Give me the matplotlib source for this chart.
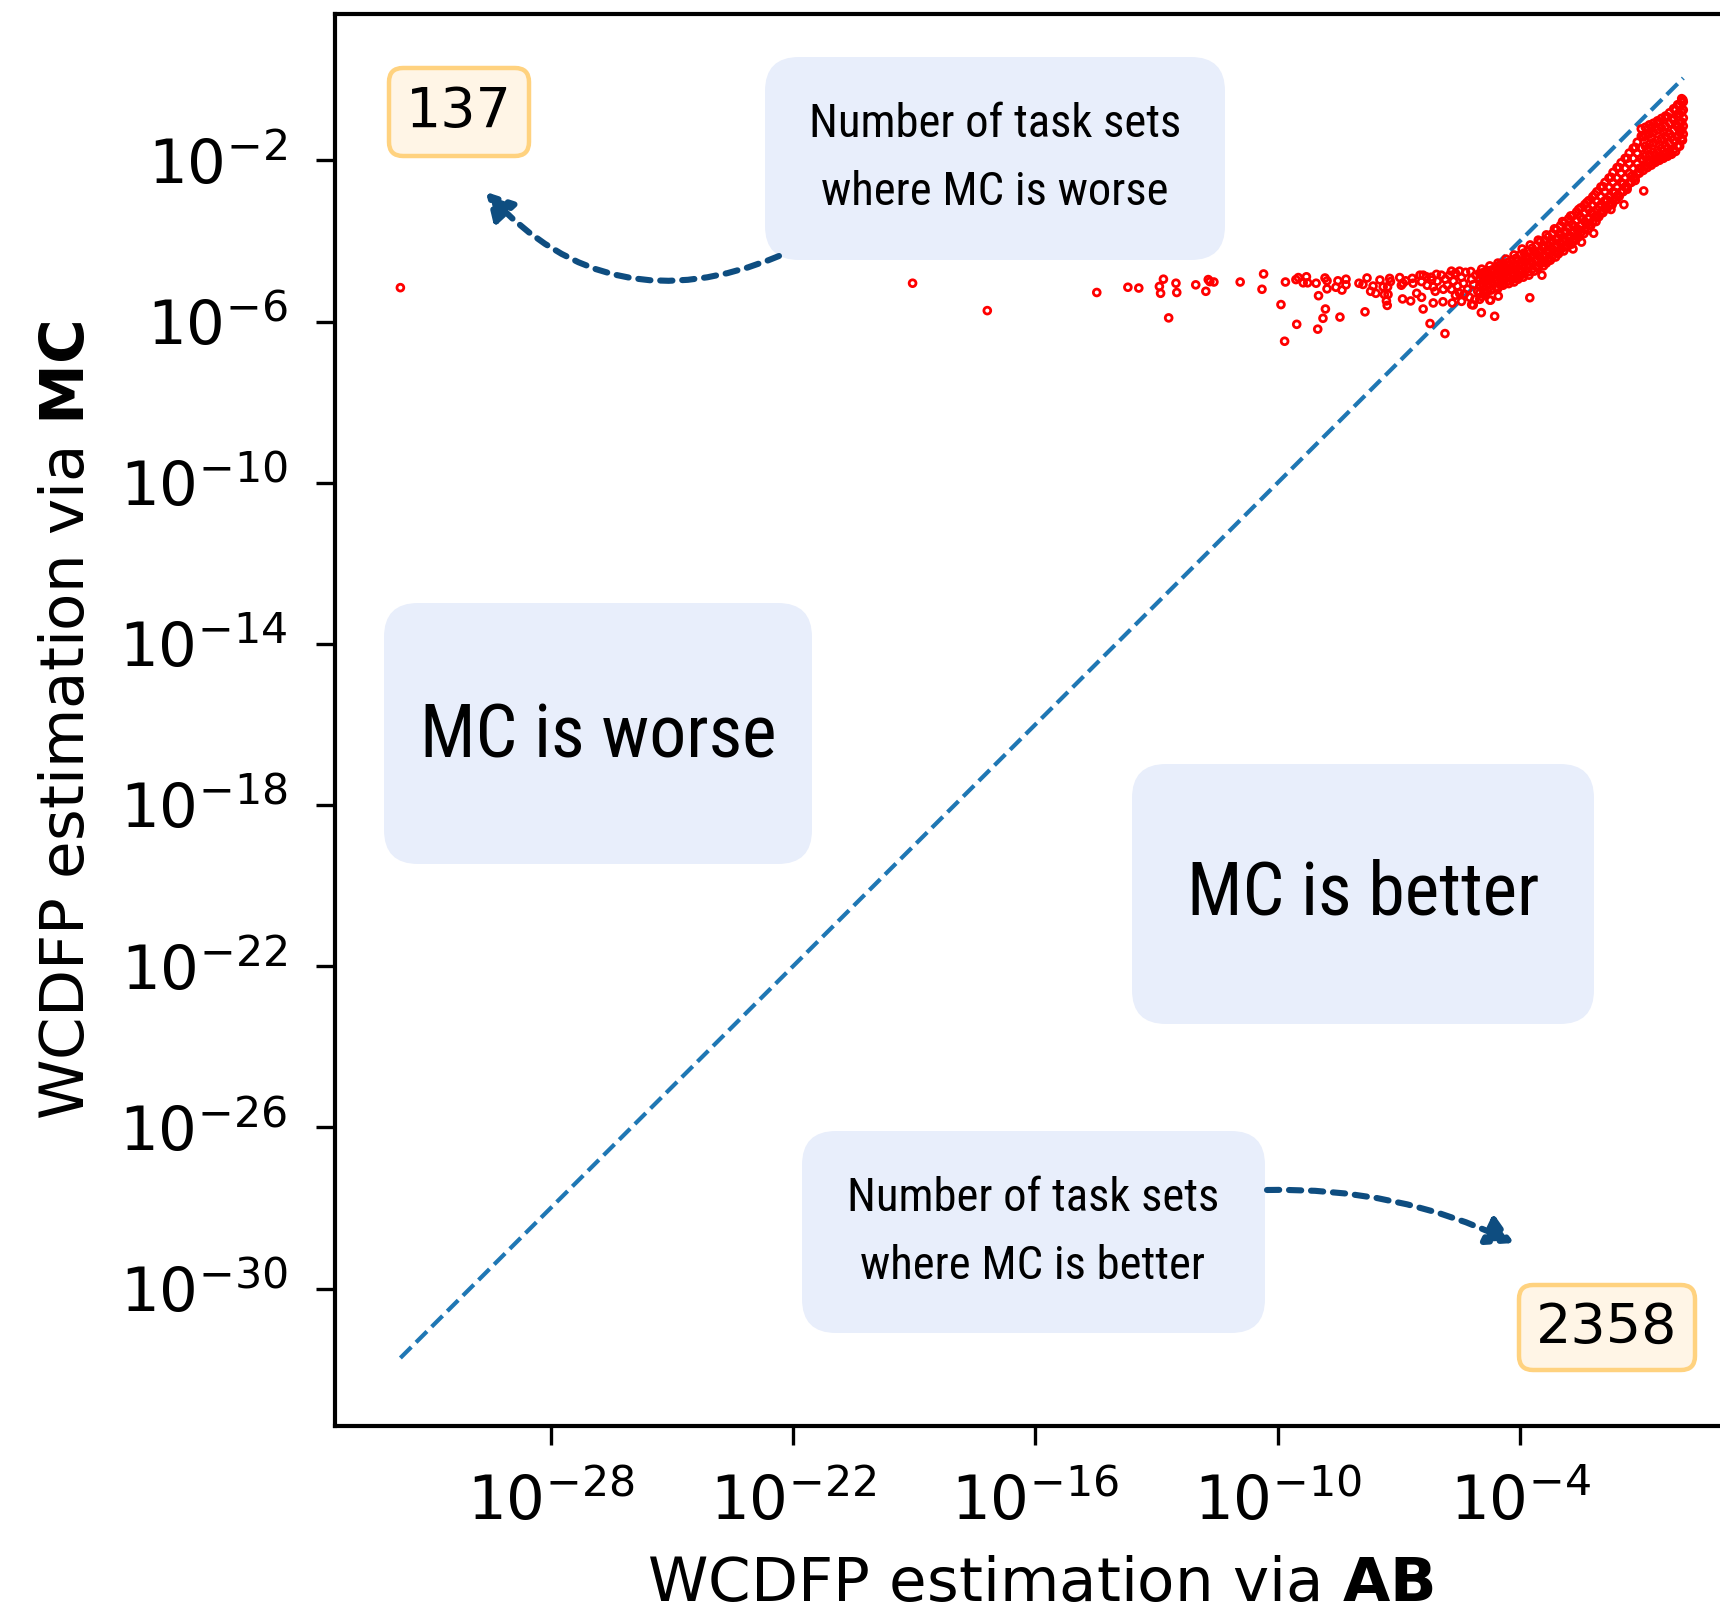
import numpy as np
import matplotlib
matplotlib.use('Agg')
import matplotlib.pyplot as plt
from matplotlib import font_manager
from matplotlib.ticker import NullLocator
from matplotlib.patches import FancyBboxPatch, FancyArrowPatch

# exponents (log10)
# scattered points: flat part around 1e-5 and stray points
sparse_ab = [-31.72, -19.04, -17.19, -14.48, -13.71, -13.44, -12.83, -12.93, -12.90, -12.52,
             -12.50, -12.70, -12.03, -11.78, -11.72, -11.68, -11.58, -10.93, -10.35, -10.39,
             -9.92, -9.81, -9.83, -9.53, -9.55, -9.49, -9.37, -9.29, -9.26, -9.05,
             -8.99, -9.01, -8.88, -8.82, -8.83, -8.78, -8.78, -8.56, -8.51, -8.41,
             -8.31, -8.31, -8.46, -7.99, -7.89, -7.79, -7.84, -7.70, -7.57, -7.64,
             -7.47, -7.39, -7.28, -7.23, -7.21, -7.36, -7.27, -7.31, -7.29, -6.98,
             -6.90, -6.94, -6.83, -6.67, -6.65, -6.48, -6.44, -6.32, -6.19, -6.07,
             -6.15, -6.91, -6.71, -6.56, -6.44, -6.40, -6.15, -5.91, -5.68, -6.23,
             -5.86, -5.20, -4.96, -4.73, -4.63, -4.54, -0.94, -1.43, -1.75, -2.18,
             -2.48, -2.69, -3.46, -3.76, -0.29, -4.75, -5.16]
sparse_mc = [-5.16, -5.05, -5.73, -5.28, -5.15, -5.17, -4.95, -5.13, -5.30, -5.05,
             -5.28, -5.91, -5.09, -5.25, -4.96, -5.01, -5.02, -5.02, -4.82, -5.20,
             -5.58, -5.02, -6.49, -6.07, -4.96, -4.91, -5.04, -4.89, -5.04, -5.05,
             -5.36, -6.19, -5.92, -5.69, -4.92, -4.99, -5.19, -5.15, -4.99, -5.22,
             -4.95, -5.09, -5.89, -5.05, -5.08, -4.92, -5.76, -5.25, -5.30, -5.12,
             -4.97, -5.14, -5.14, -4.93, -5.01, -5.33, -5.33, -5.49, -5.60, -4.91,
             -5.05, -5.10, -4.99, -4.93, -5.05, -4.85, -5.01, -4.89, -4.97, -4.83,
             -5.14, -5.44, -5.49, -5.30, -5.40, -5.69, -5.54, -5.51, -5.54, -6.05,
             -6.30, -5.58, -5.78, -5.47, -5.87, -5.37, -2.76, -3.10, -3.22, -3.81,
             -4.03, -4.20, -4.85, -5.41, -1.85, -5.47, -5.59]

# crowd where the points meet the diagonal
knee_ab = [-5.85, -5.80, -5.75, -5.70, -5.65, -5.60, -5.55, -5.50, -5.45, -5.40,
           -5.35, -5.30, -5.25, -5.20, -5.15, -5.10, -5.05, -5.60, -5.50, -5.38,
           -5.22, -5.12, -5.70, -5.90, -5.95, -6.05, -6.10, -6.20, -6.30, -6.40,
           -5.45, -5.00]
knee_mc = [-4.95, -5.10, -4.85, -5.20, -5.00, -4.80, -5.12, -5.30, -4.90, -5.05,
           -4.78, -5.20, -5.40, -4.95, -5.08, -4.85, -5.25, -5.35, -4.75, -5.32,
           -4.76, -5.45, -4.75, -5.20, -4.85, -5.00, -5.25, -4.90, -5.10, -4.85,
           -5.50, -5.45]

# dense band, one column of MC values per AB value
band_ab = [-5.0, -4.9, -4.8, -4.7, -4.6, -4.5, -4.4, -4.3, -4.2, -4.1,
           -4.0, -3.9, -3.8, -3.7, -3.6, -3.5, -3.4, -3.3, -3.2, -3.1,
           -3.0, -2.9, -2.8, -2.7, -2.6, -2.5, -2.4, -2.3, -2.2, -2.1,
           -2.0, -1.9, -1.8, -1.7, -1.6, -1.5, -1.4, -1.3, -1.2, -1.1,
           -1.0, -0.9, -0.8, -0.7, -0.6, -0.5, -0.4, -0.3, -0.2, -0.1,
           0.0, 0.04]
band_mc = [
    [-5.30, -5.12, -4.95, -4.80], [-5.28, -5.10, -4.93, -4.78], [-5.24, -5.06, -4.90, -4.74],
    [-5.20, -5.03, -4.87, -4.72], [-5.15, -4.99, -4.83, -4.66], [-5.08, -4.93, -4.78, -4.60],
    [-5.05, -4.90, -4.74, -4.57], [-5.00, -4.85, -4.70, -4.53], [-4.96, -4.80, -4.65, -4.48],
    [-4.92, -4.76, -4.60, -4.43], [-4.86, -4.71, -4.55, -4.35], [-4.82, -4.66, -4.50, -4.30],
    [-4.77, -4.61, -4.45, -4.26], [-4.70, -4.55, -4.38, -4.18], [-4.64, -4.49, -4.32, -4.12],
    [-4.57, -4.42, -4.25, -4.02], [-4.52, -4.35, -4.18, -3.98], [-4.45, -4.28, -4.10, -3.90],
    [-4.38, -4.20, -4.02, -3.82], [-4.30, -4.12, -3.94, -3.72], [-4.22, -4.04, -3.85, -3.62],
    [-4.15, -3.96, -3.77, -3.55], [-4.06, -3.88, -3.68, -3.45], [-3.98, -3.80, -3.60, -3.38],
    [-3.88, -3.70, -3.50, -3.28], [-3.80, -3.61, -3.41, -3.18], [-3.72, -3.52, -3.32, -3.10],
    [-3.62, -3.42, -3.22, -3.00], [-3.52, -3.33, -3.12, -2.90], [-3.42, -3.22, -3.02, -2.78],
    [-3.30, -3.10, -2.90, -2.66], [-3.20, -3.00, -2.78, -2.55], [-3.10, -2.90, -2.67, -2.44],
    [-3.00, -2.78, -2.55, -2.30], [-2.88, -2.66, -2.44, -2.18], [-2.78, -2.55, -2.32, -2.06],
    [-2.66, -2.44, -2.20, -1.95], [-2.55, -2.32, -2.08, -1.82], [-2.45, -2.20, -1.95, -1.70],
    [-2.32, -2.08, -1.82, -1.55], [-2.20, -1.96, -1.70, -1.40, -1.22],
    [-2.15, -1.90, -1.65, -1.38, -1.18], [-2.08, -1.85, -1.60, -1.35, -1.12],
    [-2.02, -1.80, -1.56, -1.30, -1.08], [-1.98, -1.75, -1.50, -1.25, -1.02],
    [-1.92, -1.70, -1.46, -1.20, -0.96], [-1.86, -1.64, -1.40, -1.15, -0.90],
    [-1.80, -1.58, -1.34, -1.08, -0.82], [-1.74, -1.50, -1.26, -1.00, -0.72],
    [-1.65, -1.42, -1.18, -0.92, -0.62], [-1.45, -1.25, -1.05, -0.80, -0.55, -0.47],
    [-1.35, -1.15, -0.95, -0.75, -0.55]]

# more band points: lower edge, middle and upper edge
edge_ab = [-4.95, -4.85, -4.72, -4.55, -4.42, -4.28, -4.15, -4.05, -3.92, -3.78,
           -3.65, -3.55, -3.42, -3.35, -3.25, -3.12, -3.05, -2.92, -2.83, -2.72,
           -2.62, -2.55, -2.42, -2.33, -2.25, -2.12, -2.05, -1.95, -1.85, -1.72,
           -1.62, -1.55, -1.45, -1.35, -1.25, -1.15, -1.05, -0.95, -0.85, -0.75,
           -0.65, -0.55, -0.45, -0.35, -0.25, -0.15, -0.05, 0.02,
           -4.95, -4.85, -4.75, -4.65, -4.55, -4.45, -4.35, -4.25, -4.15, -4.05,
           -3.95, -3.85, -3.75, -3.65, -3.55, -3.45, -3.35, -3.25, -3.15, -3.05,
           -2.95, -2.85, -2.75, -2.65, -2.55, -2.45, -2.35, -2.25, -2.15, -2.05,
           -1.95, -1.85, -1.75, -1.65, -1.55, -1.45, -1.35, -1.25, -1.15, -1.05,
           -0.95, -0.85, -0.75, -0.65, -0.55, -0.45, -0.35, -0.25, -0.15, -0.05, -0.05,
           -4.95, -4.75, -4.55, -4.35, -4.15, -3.95, -3.75, -3.55, -3.35, -3.15,
           -2.95, -2.75, -2.55, -2.35, -2.15, -1.95, -1.75, -1.55, -1.35, -1.15,
           -0.95, -0.75, -0.55, -0.35, -0.15, -0.05, 0.03]
edge_mc = [-5.38, -5.30, -5.22, -5.18, -5.10, -5.06, -5.02, -4.95, -4.90, -4.85,
           -4.75, -4.66, -4.62, -4.55, -4.48, -4.40, -4.32, -4.25, -4.15, -4.08,
           -3.98, -3.90, -3.82, -3.73, -3.62, -3.52, -3.40, -3.30, -3.20, -3.10,
           -2.98, -2.88, -2.78, -2.66, -2.55, -2.42, -2.32, -2.25, -2.18, -2.12,
           -2.05, -2.00, -1.95, -1.90, -1.85, -1.78, -1.65, -1.50,
           -5.05, -4.88, -4.95, -4.76, -4.86, -4.67, -4.78, -4.60, -4.70, -4.48,
           -4.60, -4.40, -4.50, -4.28, -4.36, -4.15, -4.25, -4.05, -4.14, -3.93,
           -4.00, -3.78, -3.88, -3.64, -3.72, -3.46, -3.57, -3.30, -3.40, -3.15,
           -3.25, -2.98, -3.05, -2.80, -2.90, -2.58, -2.72, -2.40, -2.50, -2.20,
           -2.00, -1.74, -1.45, -1.88, -1.62, -1.30, -1.70, -1.42, -1.10, -1.30, -0.85,
           -4.70, -4.62, -4.55, -4.45, -4.35, -4.20, -4.10, -3.98, -3.85, -3.70,
           -3.52, -3.38, -3.22, -3.05, -2.85, -2.65, -2.42, -2.18, -1.95, -1.68,
           -1.42, -1.18, -1.05, -0.92, -0.75, -0.62, -0.50]

count_worse = 137
count_better = 2358
xticks_exp = [-28, -22, -16, -10, -4]
yticks_exp = [-30, -26, -22, -18, -14, -10, -6, -2]

# collect everything
ab_exp = list(sparse_ab) + list(knee_ab) + list(edge_ab)
mc_exp = list(sparse_mc) + list(knee_mc) + list(edge_mc)
for a, col in zip(band_ab, band_mc):
    ab_exp += [a] * len(col)
    mc_exp += col
ab = 10.0 ** np.array(ab_exp)
mc = 10.0 ** np.array(mc_exp)

# narrow font for the callouts
names = {f.name for f in font_manager.fontManager.ttflist}
narrow = None
for n in ['Roboto Condensed', 'Liberation Sans Narrow', 'Open Sans Condensed']:
    if n in names:
        narrow = dict(family=n)
        break
if narrow is None:
    narrow = dict(family='DejaVu Sans', stretch='condensed')

fig = plt.figure(figsize=(8.6, 8.065), dpi=200)
ax = fig.add_axes([0.1945, 0.1159, 0.8215, 0.8754])

ax.scatter(ab, mc, s=6, facecolors='none', edgecolors='red', linewidths=1.0, zorder=3)
lo, hi = ab.min(), ab.max()
ax.plot([lo, hi], [lo, hi], '--', color='#1f77b4', lw=1.5, zorder=2)

ax.set_xscale('log')
ax.set_yscale('log')
ax.set_xlim(10 ** -33.35, 10 ** 1.63)
ax.set_ylim(10 ** -33.41, 10 ** 1.63)
ax.set_xticks([10.0 ** e for e in xticks_exp])
ax.set_yticks([10.0 ** e for e in yticks_exp])
ax.xaxis.set_minor_locator(NullLocator())
ax.yaxis.set_minor_locator(NullLocator())
ax.tick_params(labelsize=22, length=7, width=1.2, pad=10)
for sp in ax.spines.values():
    sp.set_linewidth(1.5)
ax.set_xlabel(r'WCDFP estimation via $\mathbf{AB}$', fontsize=22, labelpad=8)
ax.set_ylabel(r'WCDFP estimation via $\mathbf{MC}$', fontsize=22, labelpad=8)

# overlay in pixel units for the callouts
ov = fig.add_axes([0, 0, 1, 1])
ov.set_xlim(0, 1720)
ov.set_ylim(1613, 0)
ov.axis('off')

blue_box = '#e8eefb'
arrow_c = '#0e4d80'


def box(x0, y0, x1, y1, r, fc, ec='none', lw=0):
    ov.add_patch(FancyBboxPatch((x0, y0), x1 - x0, y1 - y0,
                                boxstyle=f'round,pad=0,rounding_size={r}',
                                fc=fc, ec=ec, lw=lw))


box(765, 57, 1225, 260, 34, blue_box)
ov.text(995, 158, 'Number of task sets\nwhere MC is worse', ha='center', va='center',
        fontsize=16.8, linespacing=1.7, **narrow)

box(389, 68, 529, 156, 14, '#fff5e6', '#ffd27f', 1.6)
ov.text(459, 112, str(count_worse), ha='center', va='center', fontsize=20, family='DejaVu Sans')

box(384, 603, 812, 864, 34, blue_box)
ov.text(598, 737, 'MC is worse', ha='center', va='center', fontsize=26.5, **narrow)

box(1132, 764, 1594, 1024, 34, blue_box)
ov.text(1363, 894, 'MC is better', ha='center', va='center', fontsize=26.5, **narrow)

box(802, 1131, 1265, 1333, 34, blue_box)
ov.text(1033, 1232, 'Number of task sets\nwhere MC is better', ha='center', va='center',
        fontsize=16.8, linespacing=1.7, **narrow)

box(1519, 1285, 1695, 1370, 14, '#fff5e6', '#ffd27f', 1.6)
ov.text(1607, 1328, str(count_better), ha='center', va='center', fontsize=20, family='DejaVu Sans')

ov.add_patch(FancyArrowPatch((779, 256), (486, 192), connectionstyle='arc3,rad=-0.35',
                             arrowstyle='-|>,head_length=8,head_width=4.5', color=arrow_c,
                             lw=2.2, linestyle=(0, (2, 1.6)), shrinkA=0, shrinkB=0))
ov.add_patch(FancyArrowPatch((1267, 1190), (1514, 1243), connectionstyle='arc3,rad=-0.12',
                             arrowstyle='-|>,head_length=8,head_width=4.5', color=arrow_c,
                             lw=2.2, linestyle=(0, (2, 1.6)), shrinkA=0, shrinkB=0))

fig.savefig('out.png', dpi=200)
